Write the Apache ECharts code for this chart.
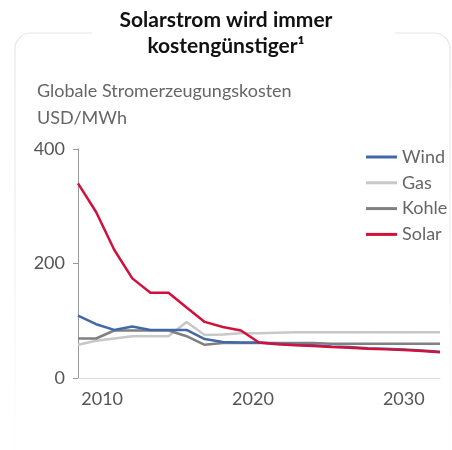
<!DOCTYPE html>
<html>
<head>
<meta charset="utf-8">
<script src="https://cdn.jsdelivr.net/npm/echarts@6/dist/echarts.min.js"></script>
<style>html,body{margin:0;padding:0;background:#fff}#c{width:452px;height:450px}</style>
</head>
<body>
<div id="c"></div>
<script>
// x positions (years) of the data points
const years = [2008.4, 2009.6, 2010.8, 2012.0, 2013.2, 2014.4, 2015.6, 2016.8, 2018.0, 2019.2, 2020.4,
               2021.6, 2022.8, 2024.0, 2025.2, 2026.4, 2027.6, 2028.8, 2030.0, 2031.2, 2032.4];
const xTickLabels = [2010, 2020, 2030];
const yTickLabels = [0, 200, 400];
const seriesNames = ['Wind', 'Gas', 'Kohle', 'Solar'];
const wind  = [109, 94, 84, 90, 84, 84, 84, 68, 63, 62, 62, 60, 58, 57, 55, 54, 52, 51, 50, 48, 46];
const gas   = [58, 65, 69, 73, 73, 73, 98, 75, 76, 78, 78, 79, 80, 80, 80, 80, 80, 80, 80, 80, 80];
const kohle = [69, 69, 83, 83, 83, 83, 73, 58, 61, 61, 61, 61, 61, 61, 60, 60, 60, 60, 60, 60, 60];
const solar = [340, 290, 224, 174, 149, 149, 123, 98, 89, 83, 62, 59, 57, 56, 54, 53, 51, 50, 49, 47, 45];
const values = [wind, gas, kohle, solar];
const colors = ['#4268a8', '#c8c8c8', '#808080', '#d2103c'];

const FONT = 'Lato, "Noto Sans", sans-serif';
const chart = echarts.init(document.getElementById('c'), null, {renderer: 'canvas'});
chart.setOption({
  animation: false,
  backgroundColor: '#fff',
  graphic: [
    {type: 'rect', z: 0, shape: {x: 15, y: 33, width: 435, height: 500, r: 16},
     style: {fill: 'none', lineWidth: 1.2,
       stroke: new echarts.graphic.LinearGradient(0, 0, 0, 1, [
         {offset: 0, color: '#e6e6e6'}, {offset: 0.5, color: '#f2f2f2'}, {offset: 1, color: 'rgba(255,255,255,0)'}])}},
    {type: 'rect', z: 1, shape: {x: 92, y: 28, width: 303, height: 12}, style: {fill: '#fff'}},
    {type: 'text', z: 2, left: 'center', top: 7,
     style: {text: 'Solarstrom wird immer\nkostengünstiger¹', fill: '#111', font: 'bold 21px ' + FONT,
       textAlign: 'center', lineHeight: 26}},
    {type: 'text', z: 2, left: 37, top: 82,
     style: {text: 'Globale Stromerzeugungskosten', fill: '#666', font: '18px ' + FONT}},
    {type: 'text', z: 2, left: 37, top: 109,
     style: {text: 'USD/MWh', fill: '#666', font: '18px ' + FONT}}
  ],
  legend: {
    orient: 'vertical', left: 361, top: 142, icon: 'rect', itemWidth: 31, itemHeight: 3, itemGap: 5.8,
    textStyle: {color: '#666', fontSize: 18, fontFamily: FONT, padding: [0, 0, 0, 0], lineHeight: 20},
    data: seriesNames
  },
  grid: {left: 78, top: 149, right: 12, bottom: 72, containLabel: false},
  xAxis: {
    type: 'value', min: years[0], max: years[years.length - 1],
    axisLine: {show: true, lineStyle: {color: '#dddddd', width: 1}},
    axisTick: {show: false},
    splitLine: {show: false},
    axisLabel: {customValues: xTickLabels, color: '#555', fontSize: 18, fontFamily: FONT, margin: 12,
      formatter: v => String(v)}
  },
  yAxis: {
    type: 'value', min: 0, max: 400, interval: 200,
    axisLine: {show: true, lineStyle: {color: '#999', width: 1}},
    axisTick: {show: true, length: 5, lineStyle: {color: '#999'}},
    splitLine: {show: false},
    axisLabel: {color: '#555', fontSize: 18, fontFamily: FONT, margin: 13,
      formatter: v => yTickLabels.includes(v) ? String(v) : ''}
  },
  series: seriesNames.map((n, i) => ({
    name: n, type: 'line', symbol: 'none', z: i === 3 ? 5 : (i === 0 ? 4 : 3),
    data: years.map((y, k) => [y, values[i][k]]),
    lineStyle: {color: colors[i], width: 2.5},
    itemStyle: {color: colors[i]}
  }))
});
</script>
</body>
</html>
